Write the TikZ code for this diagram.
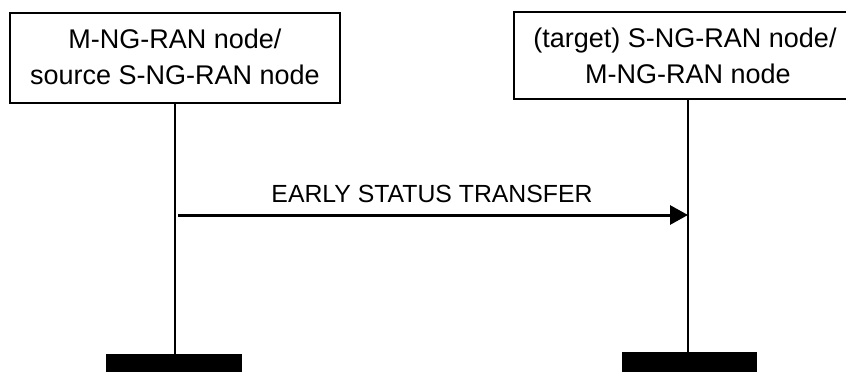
\documentclass[tikz,border=0pt]{standalone}
\usepackage{fontspec}
\setmainfont{Liberation Sans}
\usetikzlibrary{arrows.meta}
\tikzset{
  entity/.style={draw=black, line width=2.2pt, fill=white, inner sep=0pt},
  boxtext/.style={anchor=base, inner sep=0pt, font=\fontsize{27}{32}\selectfont},
  msgtext/.style={anchor=base, inner sep=0pt, font=\fontsize{24.8}{29}\selectfont},
  lifeline/.style={line width=2pt},
  bar/.style={fill=black, draw=none, inner sep=0pt},
  msg/.style={line width=3pt, -{Triangle[length=18pt,width=19pt]}}
}
\begin{document}
\begin{tikzpicture}[x=1pt,y=-1pt]
\useasboundingbox (0,0) rectangle (846,372);
\clip (0,0) rectangle (846,372);
% entities
\node[entity, minimum width=330pt, minimum height=90pt] (A) at (175,58) {};
\node[entity, minimum width=348pt, minimum height=87pt] (B) at (688,55.5) {};
\node[boxtext] (a1) at (175,48.5) {M-NG-RAN node/};
\node[boxtext] (a2) at (175,84.5) {source S-NG-RAN node};
\node[boxtext] (b1) at (685,47.5) {(target) S-NG-RAN node/};
\node[boxtext] (b2) at (688,83.5) {M-NG-RAN node};
% bars
\node[bar, minimum width=136pt, minimum height=22pt, anchor=north] (Abar) at (174,354) {};
\node[bar, minimum width=135pt, minimum height=24pt, anchor=north] (Bbar) at (689.5,352) {};
% lifelines
\draw[lifeline] (A.south) -- (A.south |- Abar.north);
\draw[lifeline] (B.south) -- (B.south |- Bbar.north);
% message
\coordinate (s) at (178,215);
\coordinate (t) at (688,215);
\draw[msg] (s) -- (t);
\node[msgtext] (m) at (432,202) {EARLY STATUS TRANSFER};
\end{tikzpicture}
\end{document}
